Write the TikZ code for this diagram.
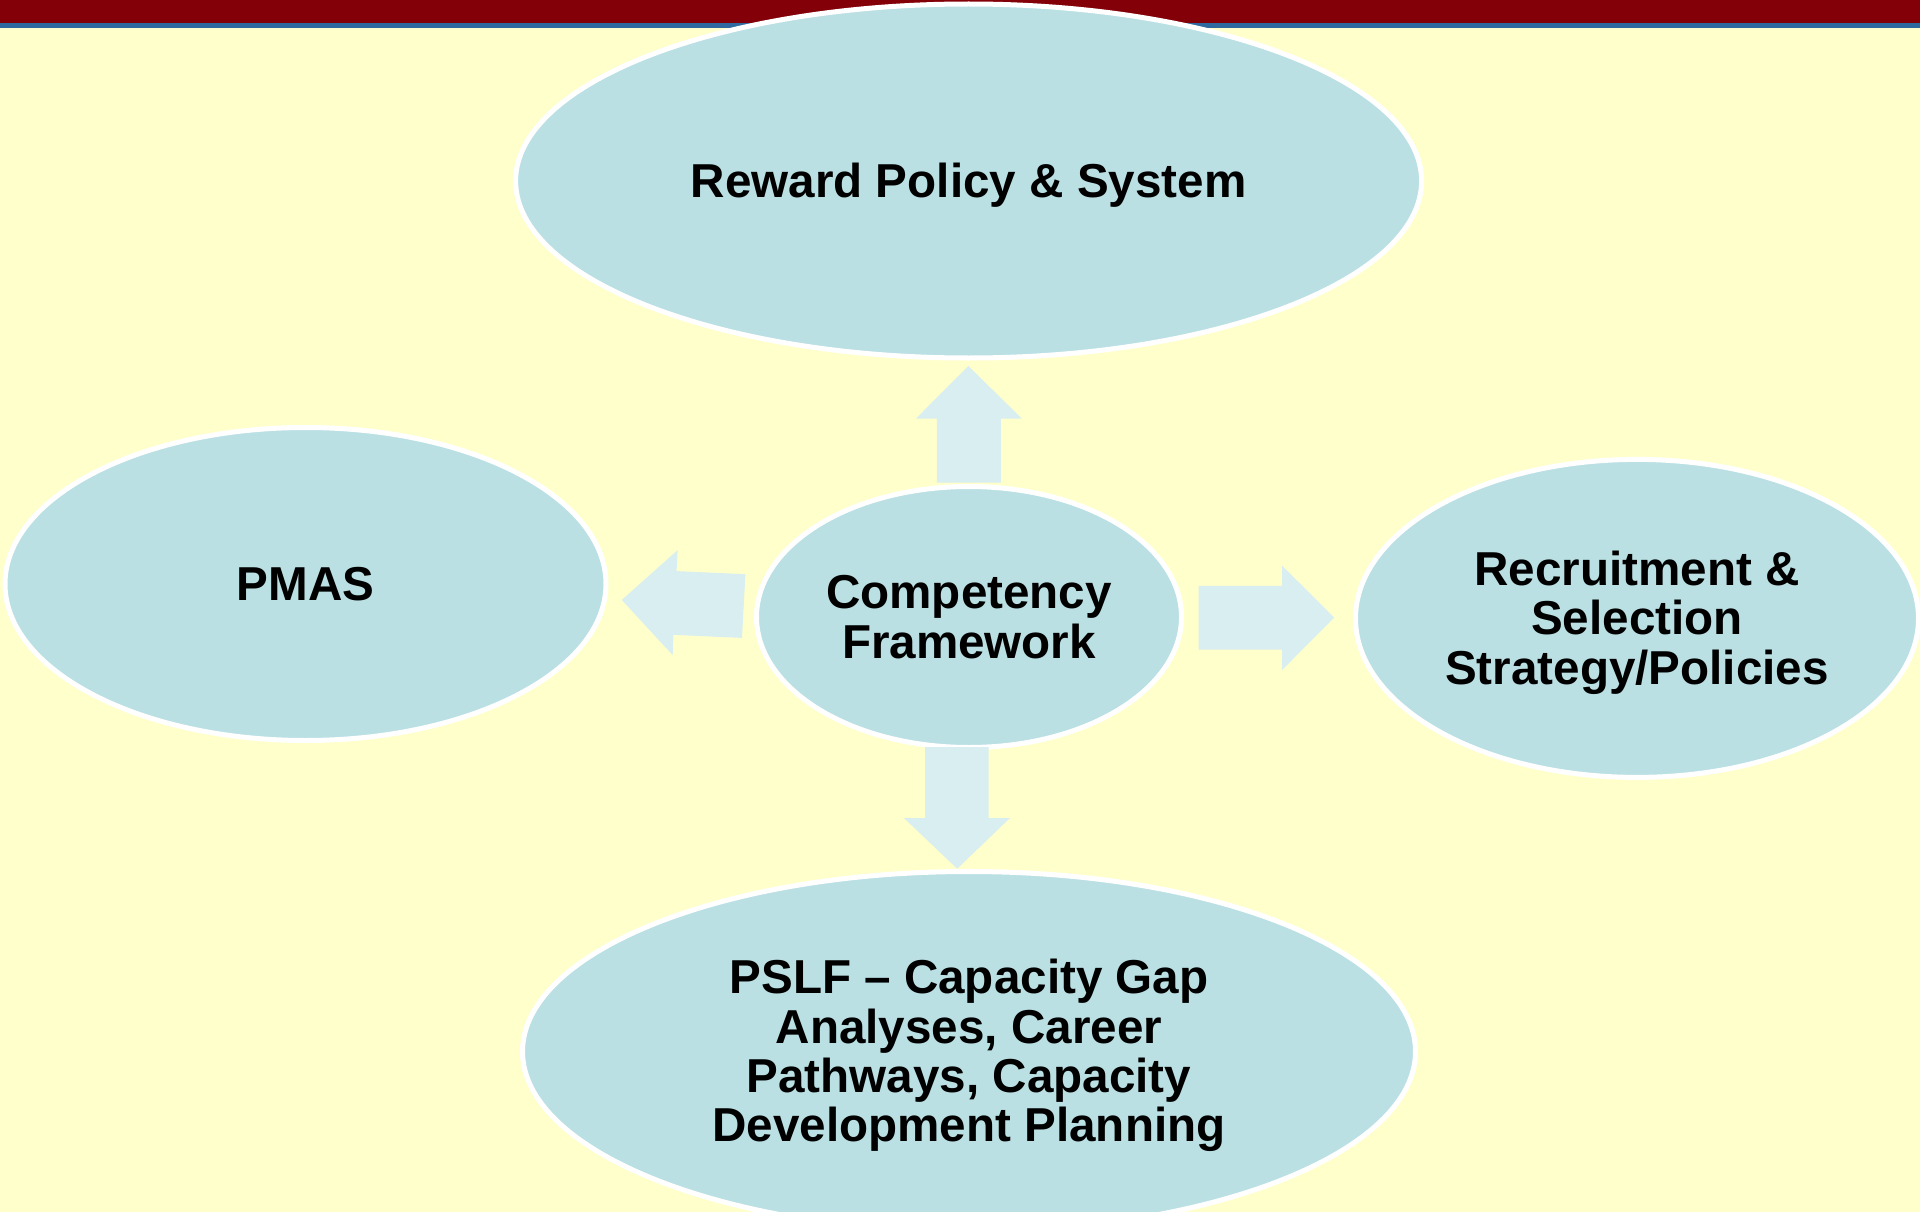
\documentclass[tikz,border=0pt]{standalone}
\usepackage{fontspec}
\setmainfont{Liberation Sans}
\usetikzlibrary{shapes.geometric}
\definecolor{bgyellow}{HTML}{FFFFCC}
\definecolor{barred}{HTML}{840008}
\definecolor{barblue}{HTML}{2E6AA0}
\definecolor{ellfill}{HTML}{BAE0E4}
\definecolor{arrfill}{HTML}{D9EEF0}
\tikzset{
  bubble/.style={ellipse, draw=white, line width=5pt, fill=ellfill, inner sep=0pt},
  bubbletext/.style={inner sep=0pt, align=center, text=black, yshift=-4pt,
    font=\bfseries\fontsize{47.6pt}{49.4pt}\selectfont},
  blockarrow/.style={fill=arrfill, draw=none}
}
\begin{document}
\begin{tikzpicture}[x=1pt,y=-1pt]
\clip (0,0) rectangle (1920,1212);
\fill[bgyellow] (0,0) rectangle (1920,1212);
\fill[barred] (0,0) rectangle (1920,23);
\fill[barblue] (0,23) rectangle (1920,28);

% nodes
\node[bubble, minimum width=906pt, minimum height=354pt,
  label={[bubbletext]center:Reward Policy \& System}] (reward) at (968.6,181) {};
\node[bubble, minimum width=601pt, minimum height=313pt,
  label={[bubbletext, yshift=4pt]center:PMAS}] (pmas) at (305.5,584) {};
\node[bubble, minimum width=425pt, minimum height=261pt,
  label={[bubbletext, yshift=4pt]center:{Competency\\Framework}}] (comp) at (969,617) {};
\node[bubble, minimum width=563pt, minimum height=318pt,
  label={[bubbletext]center:{Recruitment \&\\Selection\\Strategy/Policies}}] (recr) at (1637,618.4) {};
\node[bubble, minimum width=893pt, minimum height=360pt,
  label={[bubbletext]center:{PSLF -- Capacity Gap\\Analyses, Career\\Pathways, Capacity\\Development Planning}}] (pslf) at (969,1051.5) {};

% block arrows
\coordinate (upTip) at (968.4,366);
\fill[blockarrow] (upTip) -- (1021.7,418.5) -- (1000.8,418.5) -- (1000.8,482.6)
  -- (936.9,482.6) -- (936.9,418.5) -- (916,418.5) -- cycle;

\coordinate (rightTip) at (1334.3,617.6);
\fill[blockarrow] (rightTip) -- (1282,670) -- (1282,649.6) -- (1198.6,649.6)
  -- (1198.6,585.9) -- (1282,585.9) -- (1282,565.6) -- cycle;

\coordinate (leftTip) at (621.8,600);
\fill[blockarrow] (leftTip) -- (677.6,550.1) -- (676.6,571.1) -- (745.4,574.2)
  -- (742,637.9) -- (673.2,634.8) -- (672.7,655.1) -- cycle;

\coordinate (downTip) at (957.2,868.7);
\fill[blockarrow] (downTip) -- (1010,818) -- (988.7,818) -- (988.7,747.1)
  -- (925.2,747.1) -- (925.2,818) -- (903.9,818) -- cycle;
\end{tikzpicture}
\end{document}
